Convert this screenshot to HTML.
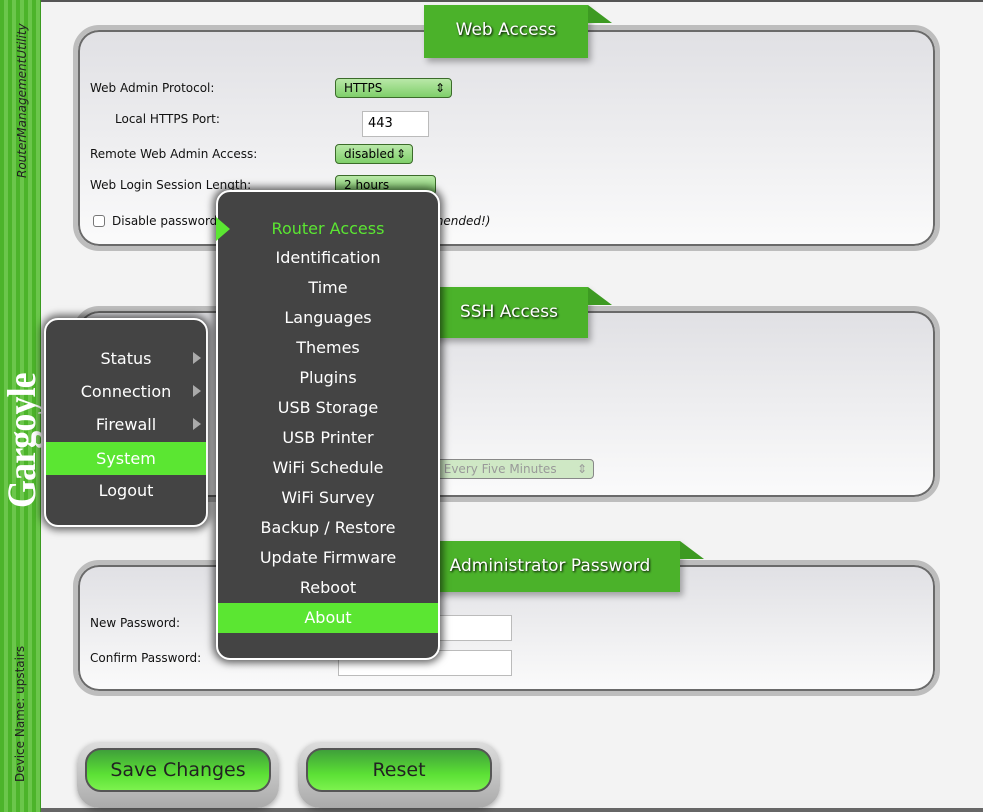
<!DOCTYPE html>
<html><head><meta charset="utf-8"><style>
*{margin:0;padding:0;box-sizing:border-box}
body{width:983px;height:812px;overflow:hidden;background:#f3f3f3;font-family:"DejaVu Sans","Liberation Sans",sans-serif;position:relative}
.abs{position:absolute}
#side{left:0;top:0;width:41px;height:812px;background:repeating-linear-gradient(90deg,#4cb42a 0 4px,#6bc64b 4px 8px);border-right:1px solid #3a9a20}
.vt{transform:rotate(-90deg);transform-origin:left top;white-space:nowrap;color:#222}
.panel{left:73px;width:867px;border:5px solid #bdbdbd;border-radius:26px;background:linear-gradient(#e0e0e4,#fbfbfb);box-shadow:inset 0 0 0 2px #6a6a6a}
.tab{background:#4bb22a;color:#fff;font-size:17px;text-align:center;text-shadow:1px 1px 2px #000;box-shadow:3px 4px 6px rgba(0,0,0,.3)}
.fold{width:0;height:0;border-top:18px solid transparent;border-left:24px solid #3d9a22}
.lbl{font-size:12px;color:#111}
.sel{border:1px solid #3b6b2a;border-radius:4px;background:linear-gradient(#b9e8a8,#7fcf6a);font-size:12px;padding:2px 8px;height:20px;white-space:nowrap;overflow:hidden}
.sel span{position:absolute;right:6px;top:2px}
.inp{background:#fff;border:1px solid #bbb;font-size:13px;padding:4px 5px}
.menu{background:#444;border:2px solid #fff;border-radius:14px;box-shadow:0 0 8px 3px rgba(0,0,0,.6);color:#fff}
.mi{position:absolute;left:0;right:0;text-align:center;font-size:16px;height:30px;line-height:30px}
.btn{border-radius:22px;background:linear-gradient(#ddd,#aaa);box-shadow:0 2px 6px rgba(0,0,0,.3)}
.btn div{position:absolute;left:8px;right:8px;top:6px;height:44px;border:2px solid #555;border-radius:16px;background:linear-gradient(#3fa03a,#5be035 60%,#7cf24e);text-align:center;line-height:40px;font-size:19px;color:#222}
</style></head><body>
<div class="abs" style="left:0;top:0;width:983px;height:2px;background:#555"></div>
<div class="abs" style="left:0;top:808px;width:983px;height:4px;background:#666"></div>
<div id="side" class="abs"></div>
<div class="abs vt" style="left:15px;top:178px;font-size:12px;font-style:italic">RouterManagementUtility</div>
<div class="abs vt" style="left:-2px;top:508px;font-size:40px;color:#fff;font-family:'Liberation Serif',serif;font-weight:bold;transform:rotate(-90deg) scaleX(0.9);letter-spacing:-1px">Gargoyle</div>
<div class="abs vt" style="left:13px;top:782px;font-size:12px">Device Name: upstairs</div>

<!-- Web Access -->
<div class="abs panel" style="top:25px;height:226px"></div>
<div class="abs tab" style="left:424px;top:5px;width:164px;height:53px;line-height:50px">Web Access</div>
<div class="abs fold" style="left:588px;top:5px"></div>
<div class="abs lbl" style="left:90px;top:81px">Web Admin Protocol:</div>
<div class="abs sel" style="left:335px;top:78px;width:117px">HTTPS<span>⇕</span></div>
<div class="abs lbl" style="left:115px;top:112px">Local HTTPS Port:</div>
<div class="abs inp" style="left:362px;top:111px;width:67px;height:26px">443</div>
<div class="abs lbl" style="left:90px;top:147px">Remote Web Admin Access:</div>
<div class="abs sel" style="left:335px;top:144px;width:78px">disabled<span>⇕</span></div>
<div class="abs lbl" style="left:90px;top:178px">Web Login Session Length:</div>
<div class="abs sel" style="left:335px;top:175px;width:101px">2 hours</div>
<div class="abs" style="left:93px;top:215px;width:12px;height:12px;border:1px solid #777;border-radius:3px;background:#fff"></div>
<div class="abs lbl" style="left:112px;top:214px">Disable password</div>
<div class="abs lbl" style="left:420px;top:214px;font-style:italic">mmended!)</div>

<!-- SSH -->
<div class="abs panel" style="top:306px;height:196px"></div>
<div class="abs tab" style="left:430px;top:287px;width:158px;height:51px;line-height:50px">SSH Access</div>
<div class="abs fold" style="left:588px;top:287px"></div>
<div class="abs sel" style="left:420px;top:459px;width:174px;color:#999;background:#cfe8c5;border-color:#888">s) Every Five Minutes<span>⇕</span></div>

<!-- Admin -->
<div class="abs panel" style="top:560px;height:136px"></div>
<div class="abs tab" style="left:420px;top:541px;width:260px;height:51px;line-height:50px">Administrator Password</div>
<div class="abs fold" style="left:680px;top:541px"></div>
<div class="abs lbl" style="left:90px;top:616px">New Password:</div>
<div class="abs lbl" style="left:90px;top:651px">Confirm Password:</div>
<div class="abs inp" style="left:338px;top:615px;width:174px;height:26px"></div>
<div class="abs inp" style="left:338px;top:650px;width:174px;height:26px"></div>

<!-- buttons -->
<div class="abs btn" style="left:77px;top:742px;width:202px;height:66px"><div>Save Changes</div></div>
<div class="abs btn" style="left:298px;top:742px;width:202px;height:66px"><div>Reset</div></div>

<!-- main menu -->
<div class="abs menu" style="left:44px;top:318px;width:164px;height:209px">
<div class="mi" style="top:24px">Status</div><div class="abs" style="left:147px;top:32px;border-left:8px solid #aaa;border-top:6px solid transparent;border-bottom:6px solid transparent"></div>
<div class="mi" style="top:57px">Connection</div><div class="abs" style="left:147px;top:65px;border-left:8px solid #aaa;border-top:6px solid transparent;border-bottom:6px solid transparent"></div>
<div class="mi" style="top:90px">Firewall</div><div class="abs" style="left:147px;top:98px;border-left:8px solid #aaa;border-top:6px solid transparent;border-bottom:6px solid transparent"></div>
<div class="mi" style="top:122px;height:33px;line-height:33px;background:#5be632">System</div>
<div class="mi" style="top:156px">Logout</div>
</div>

<!-- sub menu -->
<div class="abs menu" style="left:216px;top:190px;width:224px;height:470px">
<div class="mi" style="top:22px;color:#5be632">Router Access</div>
<div class="mi" style="top:51px">Identification</div>
<div class="mi" style="top:81px">Time</div>
<div class="mi" style="top:111px">Languages</div>
<div class="mi" style="top:141px">Themes</div>
<div class="mi" style="top:171px">Plugins</div>
<div class="mi" style="top:201px">USB Storage</div>
<div class="mi" style="top:231px">USB Printer</div>
<div class="mi" style="top:261px">WiFi Schedule</div>
<div class="mi" style="top:291px">WiFi Survey</div>
<div class="mi" style="top:321px">Backup / Restore</div>
<div class="mi" style="top:351px">Update Firmware</div>
<div class="mi" style="top:381px">Reboot</div>
<div class="mi" style="top:411px;background:#5be632">About</div>
</div>
<div class="abs" style="left:216px;top:217px;border-left:14px solid #5be632;border-top:12px solid transparent;border-bottom:12px solid transparent"></div>
</body></html>
